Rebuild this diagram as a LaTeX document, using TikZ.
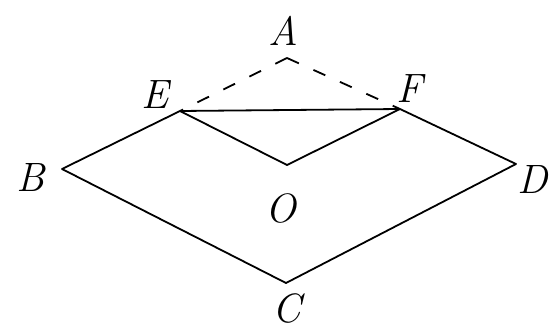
\documentclass[tikz,border=0pt]{standalone}
\usepackage{fontspec}
\begin{document}
\begin{tikzpicture}[x=1pt,y=-1pt,
  seg/.style={line width=1.8pt, line join=round},
  hid/.style={line width=1.8pt, dash pattern=on 13pt off 16pt},
  lab/.style={font=\fontsize{41}{41}\selectfont\itshape, inner sep=0pt}]
\useasboundingbox (0,0) rectangle (559,331);
\coordinate (A) at (287,58);
\coordinate (E) at (180,111);
\coordinate (F) at (400,109);
\coordinate (B) at (62,169);
\coordinate (D) at (516,164);
\coordinate (O) at (287,165);
\coordinate (C) at (286,283);
\node[lab] (lA) at (283,31) {A};
\node[lab] (lE) at (155,95) {E};
\node[lab] (lF) at (410,89) {F};
\node[lab] (lB) at (31,177) {B};
\node[lab] (lD) at (533,179) {D};
\node[lab] (lO) at (281,208) {O};
\node[lab] (lC) at (287,308) {C};
\draw[seg] (E) -- (B) -- (C) -- (D) -- (F);
\draw[seg] (E) -- (F);
\draw[seg] (E) -- (O) -- (F);
\draw[hid] (A) -- (E);
\draw[hid] (A) -- (F);
\end{tikzpicture}
\end{document}
